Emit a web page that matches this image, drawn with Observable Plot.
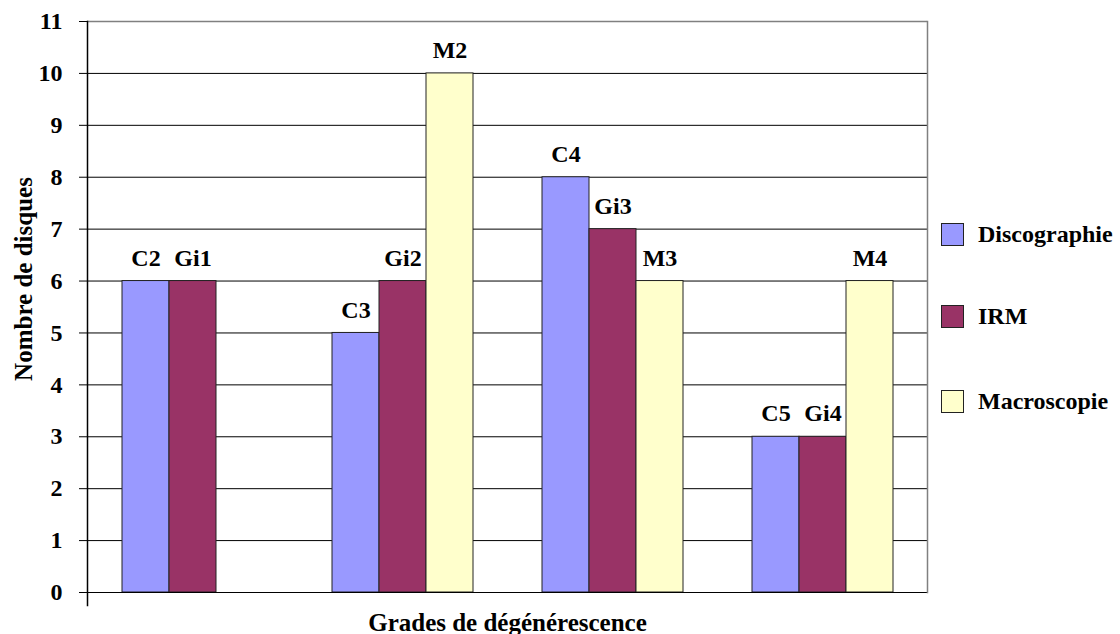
<!DOCTYPE html>
<html>
<head>
<meta charset="utf-8">
<script src="https://cdn.jsdelivr.net/npm/d3@7"></script>
<script src="https://cdn.jsdelivr.net/npm/@observablehq/plot@0.6"></script>
<style>
  body { margin: 0; background: #fff; }
  #wrap { position: relative; width: 1120px; height: 634px; font-family: "Liberation Serif", "DejaVu Serif", Times, serif; }
  #legend { position: absolute; left: 941px; top: 0; }
  .item { position: absolute; left: 0; display: flex; align-items: center; white-space: nowrap; font-weight: bold; font-size: 24px; color: #000; }
  .sw { width: 21px; height: 21px; border: 1px solid #222; margin-right: 14px; }
</style>
</head>
<body>
<div id="wrap"><div id="legend"></div></div>
<script>
const groups = ["G1", "G2", "G3", "G4"];
const series = ["Discographie", "IRM", "Macroscopie"];
const discographie = [6, 5, 8, 3];
const irm = [6, 6, 7, 3];
const macroscopie = [0, 10, 6, 6];
const labelsDiscographie = ["C2", "C3", "C4", "C5"];
const labelsIRM = ["Gi1", "Gi2", "Gi3", "Gi4"];
const labelsMacroscopie = ["", "M2", "M3", "M4"];
const colors = ["#9999FF", "#993366", "#FFFFCC"];
const yTicks = [0, 1, 2, 3, 4, 5, 6, 7, 8, 9, 10, 11];
const gridTicks = [1, 2, 3, 4, 5, 6, 7, 8, 9, 10];
const yTitle = "Nombre de disques";
const xTitle = "Grades de dégénérescence";

const values = [discographie, irm, macroscopie];
const labels = [labelsDiscographie, labelsIRM, labelsMacroscopie];
const data = [];
groups.forEach((g, gi) => series.forEach((s, si) => {
  data.push({group: g, series: s, value: values[si][gi], label: labels[si][gi]});
}));
const shown = data.filter(d => d.value > 0);

const font = "Liberation Serif, DejaVu Serif, Times, serif";

const chart = Plot.plot({
  width: 1120,
  height: 634,
  marginLeft: 86,
  marginRight: 192,
  marginTop: 21,
  marginBottom: 42,
  style: {fontFamily: font, fontWeight: "bold", color: "#000", background: "#fff"},
  fx: {domain: groups, padding: 0},
  x: {domain: series, paddingInner: 0, paddingOuter: 0.7236, axis: null},
  y: {domain: [0, 11]},
  color: {domain: series, range: colors},
  marks: [
    Plot.ruleY(gridTicks, {stroke: "#000", strokeWidth: 1}),
    Plot.ruleY([11], {stroke: "#808080", strokeWidth: 1.5}),
    Plot.barY(shown, {fx: "group", x: "series", y: "value", fill: "series", stroke: "#222", strokeWidth: 1}),
    Plot.ruleY([0], {stroke: "#000", strokeWidth: 1}),
    Plot.text(shown, {fx: "group", x: "series", y: "value", text: "label", dy: -23, fontSize: 24, fontWeight: "bold", fill: "#000", fontFamily: font}),
    Plot.frame({anchor: "right", facetAnchor: "right", stroke: "#808080", strokeWidth: 1.5}),
    Plot.frame({anchor: "left", facetAnchor: "left", stroke: "#000", strokeWidth: 1.5, insetBottom: -13}),
    Plot.axisY({ticks: yTicks, tickSize: 8, tickPadding: 17, fontSize: 24, fontWeight: "bold", fontFamily: font, label: null}),
    Plot.text([yTitle], {text: d => d, frameAnchor: "left", facetAnchor: "left", textAnchor: "middle", rotate: -90, dx: -64, dy: -28,
      fontSize: 25, fontWeight: "bold", fill: "#000", fontFamily: font}),
    Plot.axisFx({anchor: "bottom", ticks: [], tickSize: 0, label: xTitle, fontFamily: font,
      labelAnchor: "center", labelArrow: "none", labelOffset: 38, fontSize: 25, fontWeight: "bold"})
  ]
});
document.getElementById("wrap").prepend(chart);

const legend = document.getElementById("legend");
const tops = [221, 303, 388];
series.forEach((s, i) => {
  const item = document.createElement("div");
  item.className = "item";
  item.style.top = tops[i] + "px";
  const sw = document.createElement("div");
  sw.className = "sw";
  sw.style.background = colors[i];
  const t = document.createElement("span");
  t.textContent = s;
  item.append(sw, t);
  legend.append(item);
});
</script>
</body>
</html>
